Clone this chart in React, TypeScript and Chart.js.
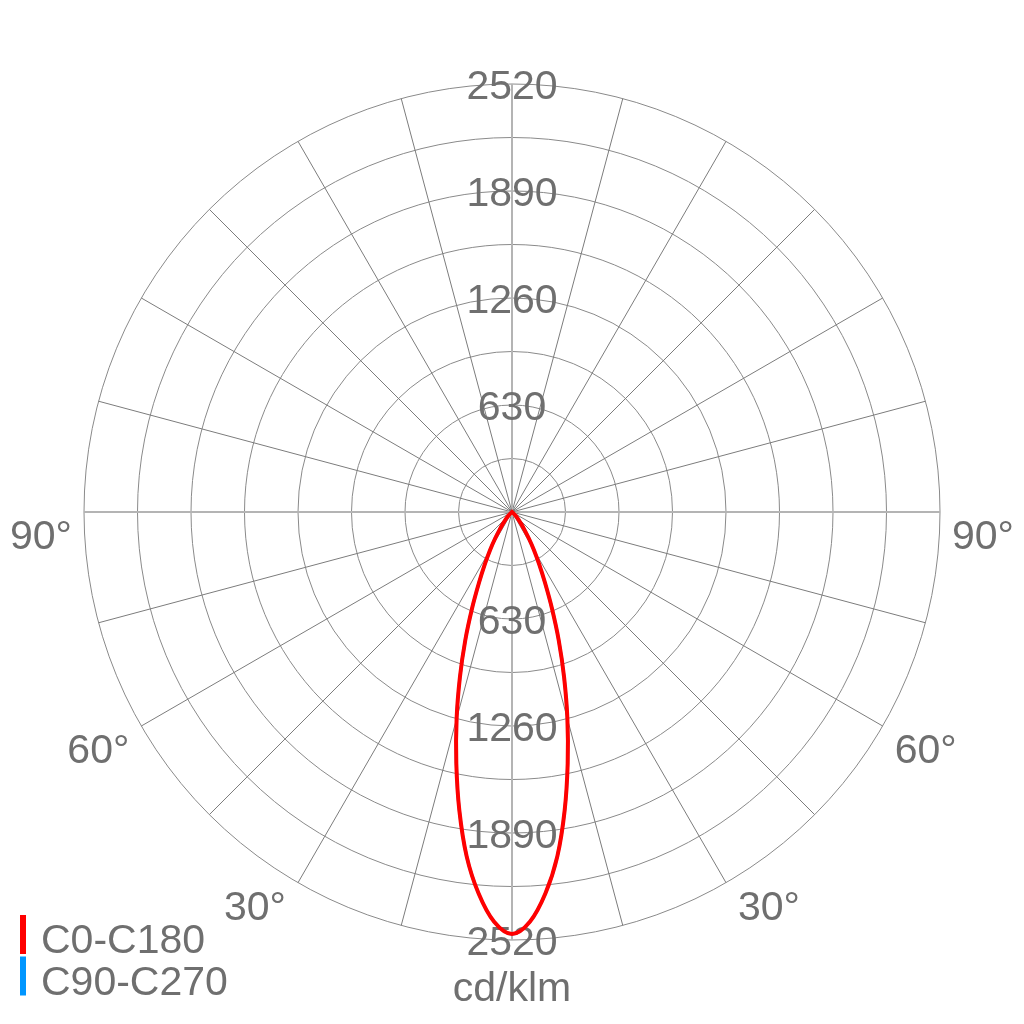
import { useEffect, useRef } from 'react';
import { Chart, registerables } from 'chart.js';

Chart.register(...registerables);

// ---- data ----
const gammaDeg = [0, 2.5, 5, 7.5, 10, 12.5, 15, 17.5, 20, 22.5, 25, 27.5, 30, 32.5, 35, 37.5, 40, 42.5, 45, 47.5, 50];
const c0c180 = [2485, 2415, 2255, 2045, 1785, 1515, 1260, 1020, 805, 615, 460, 345, 258, 185, 128, 90, 62, 42, 26, 12, 0];
const c90c270 = [2485, 2415, 2255, 2045, 1785, 1515, 1260, 1020, 805, 615, 460, 345, 258, 185, 128, 90, 62, 42, 26, 12, 0];
const seriesLabels = ['C0-C180', 'C90-C270'];
const seriesColors = ['#ff0000', '#0096ff'];
const radialTickLabels = [630, 1260, 1890, 2520];
const angleTickLabels = [30, 60, 90];
const unitLabel = 'cd/klm';
const maxValue = 2520;
const ringStep = 315;
const spokeStep = 15;
const sampleStep = 2.5;

const FONT = "'Liberation Sans', Arial, sans-serif";
const TEXT = '#6f6f6f';

const sampleCount = 360 / sampleStep;
const labels = Array.from({ length: sampleCount }, (_, i) => String(i * sampleStep));

function toRadar(values: number[]): (number | null)[] {
  return labels.map((_, i) => {
    const a = i * sampleStep;
    const g = a <= 180 ? a : 360 - a;
    const k = gammaDeg.indexOf(g);
    return k >= 0 ? values[k] : null;
  });
}

const polarText = {
  id: 'polarText',
  beforeDatasetsDraw(chart: any) {
    const s = chart.scales.r;
    const ctx = chart.ctx as CanvasRenderingContext2D;
    ctx.save();
    ctx.fillStyle = TEXT;
    ctx.font = `41px ${FONT}`;
    ctx.textBaseline = 'alphabetic';
    ctx.textAlign = 'center';
    for (const v of radialTickLabels) {
      const d = s.getDistanceFromCenterForValue(v);
      ctx.fillText(String(v), s.xCenter, s.yCenter - d + 15);
      ctx.fillText(String(v), s.xCenter, s.yCenter + d + 15);
    }
    for (const a of angleTickLabels) {
      const pL = s.getPointPosition(a / sampleStep, s.drawingArea);
      const pR = s.getPointPosition((360 - a) / sampleStep, s.drawingArea);
      ctx.textAlign = 'right';
      ctx.fillText(`${a}°`, pL.x - 12, pL.y + 37);
      ctx.textAlign = 'left';
      ctx.fillText(`${a}°`, pR.x + 12, pR.y + 37);
    }
    ctx.restore();
  },
  afterDraw(chart: any) {
    const ctx = chart.ctx as CanvasRenderingContext2D;
    const s = chart.scales.r;
    ctx.save();
    ctx.font = `41px ${FONT}`;
    ctx.textBaseline = 'alphabetic';
    chart.data.datasets.forEach((ds: any, i: number) => {
      const top = 915 + i * 41.5;
      ctx.fillStyle = ds.borderColor;
      ctx.fillRect(20, top, 6, 39);
      ctx.fillStyle = TEXT;
      ctx.textAlign = 'left';
      ctx.fillText(ds.label, 41, top + 38);
    });
    ctx.textAlign = 'center';
    ctx.fillStyle = TEXT;
    ctx.fillText(unitLabel, s.xCenter, 1001);
    ctx.restore();
  },
};

export default function App() {
  const ref = useRef<HTMLCanvasElement>(null);
  useEffect(() => {
    const spokeEvery = spokeStep / sampleStep;
    const axisEvery = 90 / sampleStep;
    const chart = new Chart(ref.current as HTMLCanvasElement, {
      type: 'radar',
      data: {
        labels,
        datasets: [
          {
            label: seriesLabels[0],
            data: toRadar(c0c180),
            borderColor: seriesColors[0],
            backgroundColor: seriesColors[0],
            borderWidth: 4,
            fill: false,
            pointRadius: 0,
            spanGaps: true,
            tension: 0.35,
          },
          {
            label: seriesLabels[1],
            data: toRadar(c90c270),
            borderColor: seriesColors[1],
            backgroundColor: seriesColors[1],
            borderWidth: 3,
            fill: false,
            pointRadius: 0,
            spanGaps: true,
            tension: 0.35,
          },
        ],
      } as any,
      options: {
        responsive: false,
        animation: false,
        devicePixelRatio: 1,
        events: [],
        layout: { padding: 84 },
        plugins: { legend: { display: false }, tooltip: { enabled: false } },
        scales: {
          r: {
            min: 0,
            max: maxValue,
            startAngle: 180,
            ticks: { display: false, stepSize: ringStep },
            grid: { circular: true, color: '#8a8a8a', lineWidth: 1 },
            angleLines: {
              display: true,
              color: (c: any) => (c.index % axisEvery === 0 ? '#b4b4b4' : '#7c7c7c'),
              lineWidth: (c: any) => (c.index % spokeEvery !== 0 ? 0 : c.index % axisEvery === 0 ? 2 : 1),
            },
            pointLabels: { display: false },
          },
        },
      } as any,
      plugins: [polarText],
    });
    return () => chart.destroy();
  }, []);
  return (
    <div style={{ position: 'absolute', left: 0, top: 0, width: 1024, height: 1024, background: '#ffffff' }}>
      <canvas ref={ref} width={1024} height={1024} style={{ display: 'block' }} />
    </div>
  );
}
